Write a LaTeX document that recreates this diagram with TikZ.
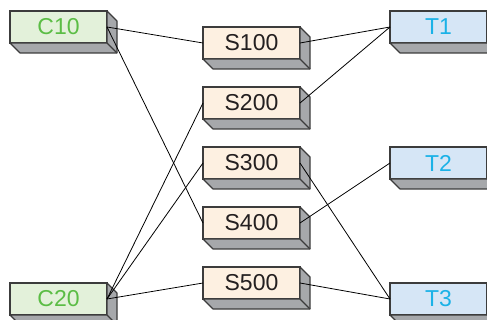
\documentclass[tikz,border=0pt]{standalone}
\usepackage{fontspec}
\setmainfont{Liberation Sans}
\definecolor{srcfill}{HTML}{E3F1DA}
\definecolor{srctext}{HTML}{5BBD45}
\definecolor{stgfill}{HTML}{FDF0E1}
\definecolor{stgtext}{HTML}{231F20}
\definecolor{tgtfill}{HTML}{D6E6F6}
\definecolor{tgttext}{HTML}{1BB2E7}
\definecolor{sidegray}{HTML}{A6A8AB}
\definecolor{edgegray}{HTML}{3C3C3C}
\tikzset{
  slab/.style={rectangle,draw=edgegray,line width=1.2pt,inner sep=0pt,outer sep=0pt,
    minimum width=97pt,minimum height=32pt,font=\fontsize{23}{26}\selectfont},
  srcslab/.style={slab,fill=srcfill,text=srctext},
  stgslab/.style={slab,fill=stgfill,text=stgtext},
  tgtslab/.style={slab,fill=tgtfill,text=tgttext},
  link/.style={line width=0.8pt,black}
}
\begin{document}
\begin{tikzpicture}[x=1pt,y=-1pt]
\def\depth{10};\def\colsrc{58.5};\def\colstg{251.5};\def\coltgt{438.5};
\useasboundingbox (0,0) rectangle (487,320);

\coordinate (src_1) at (\colsrc,27);
\coordinate (src_2) at (\colsrc,299);

\coordinate (stg_1) at (\colstg,43);
\coordinate (stg_2) at (\colstg,103);
\coordinate (stg_3) at (\colstg,163);
\coordinate (stg_4) at (\colstg,223);
\coordinate (stg_5) at (\colstg,283);

\coordinate (tgt_1) at (\coltgt,27);
\coordinate (tgt_2) at (\coltgt,163);
\coordinate (tgt_3) at (\coltgt,299);

\node[srcslab] (c10) at (src_1) {C10};
\node[srcslab] (c20) at (src_2) {C20};

\node[stgslab] (s100) at (stg_1) {S100};
\node[stgslab] (s200) at (stg_2) {S200};
\node[stgslab] (s300) at (stg_3) {S300};
\node[stgslab] (s400) at (stg_4) {S400};
\node[stgslab] (s500) at (stg_5) {S500};

\node[tgtslab] (t1) at (tgt_1) {T1};
\node[tgtslab] (t2) at (tgt_2) {T2};
\node[tgtslab] (t3) at (tgt_3) {T3};

% depth faces
\foreach \n in {c10,c20,s100,s200,s300,s400,s500,t1,t2,t3}{
  \filldraw[fill=sidegray,draw=edgegray,line width=1.2pt,line join=round]
    (\n.north east) -- ++(\depth,\depth) -- ++(0,32) -- ++(-97,0)
    -- (\n.south west) -- (\n.south east) -- cycle;
  \draw[edgegray,line width=1.2pt] (\n.south east) -- ++(\depth,\depth);
}

\draw[link] (c10.east) -- (s100.west);
\draw[link] (c10.east) -- (s400.west);
\draw[link] (c20.east) -- (s200.west);
\draw[link] (c20.east) -- (s300.west);
\draw[link] (c20.east) -- (s500.west);

\draw[link] (s100.east) -- (t1.west);
\draw[link] (s200.east) -- (t1.west);
\draw[link] (s300.east) -- (t3.west);
\draw[link] (s400.east) -- (t2.west);
\draw[link] (s500.east) -- (t3.west);
\end{tikzpicture}
\end{document}
